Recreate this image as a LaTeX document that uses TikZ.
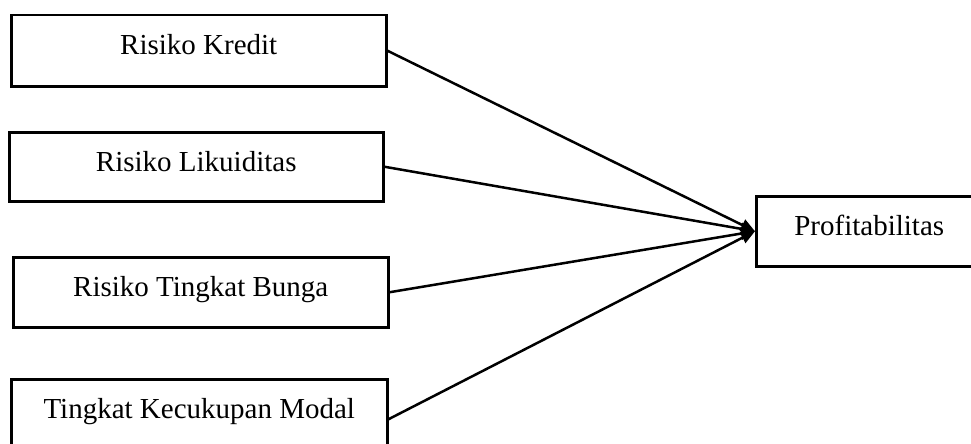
\documentclass[tikz,border=0pt]{standalone}
\usepackage{fontspec}
\setmainfont{Liberation Serif}
\usetikzlibrary{arrows.meta}
\begin{document}
\begin{tikzpicture}[x=1pt,y=-1pt,
  box/.style={draw=black,line width=2.5pt,anchor=north west,inner xsep=0pt,inner ysep=0pt,
    text height=39pt,align=center,font=\fontsize{29}{34}\selectfont},
  conn/.style={line width=2.5pt,-{Triangle[length=14pt,width=12pt]}}]
\useasboundingbox (0,0) rectangle (971,444);
\clip (0,0) rectangle (971,444);
\node[box,minimum width=375pt,text depth=32pt] (a) at (10,14) {Risiko Kredit};
\node[box,minimum width=374pt,text depth=30pt] (b) at (8,131) {Risiko Likuiditas};
\node[box,minimum width=375pt,text depth=31pt] (c) at (12,256) {Risiko Tingkat Bunga};
\node[box,minimum width=376pt,text depth=41pt] (d) at (10,378) {Tingkat Kecukupan Modal};
\node[box,minimum width=226pt,text depth=31pt] (p) at (755,195) {Profitabilitas};
\draw[conn] (a.east) -- (p.west);
\draw[conn] (b.east) -- (p.west);
\draw[conn] (c.east) -- (p.west);
\draw[conn] (d.east) -- (p.west);
\end{tikzpicture}
\end{document}
